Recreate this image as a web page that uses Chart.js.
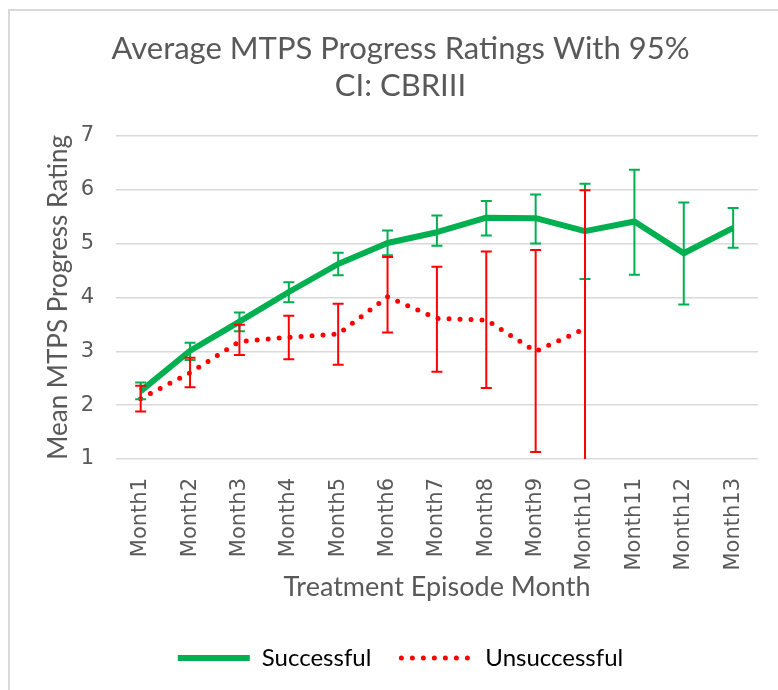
<!DOCTYPE html>
<html>
<head>
<meta charset="utf-8">
<script src="https://cdn.jsdelivr.net/npm/chart.js@4"></script>
<style>
  body { margin: 0; background: #fff; overflow: hidden; }
  #frame { position: absolute; left: 8px; top: 9px; width: 900px; height: 800px; border: 2px solid #d9d9d9; }
  #grafico { position: absolute; left: 0; top: 0; }
</style>
</head>
<body>
<div id="frame"></div>
<canvas id="grafico" width="778" height="690"></canvas>
<script>
// dados
var meses = ['Month1','Month2','Month3','Month4','Month5','Month6','Month7','Month8','Month9','Month10','Month11','Month12','Month13']
var sucesso = [2.26, 3.01, 3.55, 4.10, 4.62, 5.01, 5.21, 5.48, 5.47, 5.23, 5.41, 4.82, 5.29]
var sucesso_min = [2.11, 2.84, 3.37, 3.91, 4.41, 4.78, 4.96, 5.15, 5.00, 4.34, 4.42, 3.87, 4.92]
var sucesso_max = [2.42, 3.16, 3.72, 4.28, 4.83, 5.24, 5.52, 5.79, 5.91, 6.11, 6.37, 5.76, 5.66]
var insucesso = [2.12, 2.60, 3.18, 3.26, 3.32, 4.01, 3.61, 3.58, 3.00, 3.42, null, null, null]
var insucesso_min = [1.88, 2.33, 2.93, 2.85, 2.75, 3.35, 2.62, 2.32, 1.13, 0.85, null, null, null]
var insucesso_max = [2.36, 2.88, 3.49, 3.66, 3.88, 4.75, 4.57, 4.85, 4.88, 5.99, null, null, null]

var cor_verde = '#00B050'
var cor_vermelho = '#FF0000'
var cor_texto = '#595959'
var fonte = 'Lato'
var fonte_ticks = 'DejaVu Sans'

// barras de erro desenhadas com as escalas do chart
const barras_erro = {
    id: 'barras_erro',
    afterDatasetsDraw(chart) {
        const ctx = chart.ctx
        const x = chart.scales.x
        const y = chart.scales.y
        const area = chart.chartArea
        const series = [[sucesso_min, sucesso_max, cor_verde], [insucesso_min, insucesso_max, cor_vermelho]]
        ctx.save()
        ctx.beginPath()
        ctx.rect(area.left, area.top, area.right - area.left, area.bottom - area.top)
        ctx.clip()
        series.forEach(function(s){
            ctx.strokeStyle = s[2]
            ctx.lineWidth = 2
            for(let i = 0; i < meses.length; i++){
                if(s[0][i] == null) continue
                let px = x.getPixelForValue(i)
                let y1 = y.getPixelForValue(s[0][i])
                let y2 = y.getPixelForValue(s[1][i])
                ctx.beginPath()
                ctx.moveTo(px, y1); ctx.lineTo(px, y2)
                ctx.moveTo(px - 5.5, y1); ctx.lineTo(px + 5.5, y1)
                ctx.moveTo(px - 5.5, y2); ctx.lineTo(px + 5.5, y2)
                ctx.stroke()
            }
        })
        ctx.restore()
    }
}

const ctx = document.getElementById('grafico').getContext('2d')
const myChart = new Chart(ctx, {
    type: 'line',
    data: {
        labels: meses,
        datasets: [{
            label: 'Successful',
            data: sucesso,
            borderColor: cor_verde,
            backgroundColor: cor_verde,
            borderWidth: 6,
            pointRadius: 0,
            tension: 0,
            borderJoinStyle: 'round'
        }, {
            label: 'Unsuccessful',
            data: insucesso,
            borderColor: cor_vermelho,
            backgroundColor: cor_vermelho,
            borderWidth: 5,
            borderDash: [0, 11],
            borderCapStyle: 'round',
            pointRadius: 0,
            tension: 0
        }]
    },
    options: {
        responsive: false,
        animation: false,
        layout: { padding: { left: 40, right: 17, top: 10, bottom: 10 } },
        plugins: {
            title: {
                display: true,
                text: ['Average MTPS Progress Ratings With 95%', 'CI: CBRIII'],
                color: cor_texto,
                font: { family: fonte, size: 31, weight: 'normal', lineHeight: 1.19 },
                padding: { top: 21, bottom: 31 }
            },
            legend: {
                position: 'bottom',
                labels: {
                    usePointStyle: true,
                    pointStyleWidth: 72,
                    color: cor_texto,
                    font: { family: fonte, size: 24 },
                    padding: 30,
                    generateLabels: function(chart){
                        return chart.data.datasets.map(function(ds, i){
                            return {
                                text: ds.label,
                                strokeStyle: ds.borderColor,
                                fillStyle: ds.borderColor,
                                lineWidth: ds.borderWidth,
                                lineDash: ds.borderDash || [],
                                lineCap: ds.borderCapStyle || 'butt',
                                pointStyle: 'line',
                                datasetIndex: i
                            }
                        })
                    }
                }
            },
            tooltip: { enabled: false }
        },
        scales: {
            x: {
                offset: true,
                grid: { display: false, drawTicks: false },
                border: { display: false },
                ticks: {
                    color: cor_texto,
                    font: { family: fonte_ticks, size: 21 },
                    minRotation: 90,
                    maxRotation: 90,
                    padding: 19
                },
                title: {
                    display: true,
                    text: 'Treatment Episode Month',
                    color: cor_texto,
                    font: { family: fonte, size: 27 },
                    padding: { top: 0, bottom: 13 }
                },
                afterFit: function(scale){ scale.height = 157 }
            },
            y: {
                min: 1,
                max: 7,
                ticks: {
                    stepSize: 1,
                    color: cor_texto,
                    font: { family: fonte_ticks, size: 21 },
                    padding: 22
                },
                grid: { color: '#d9d9d9', lineWidth: 1.5, drawTicks: false },
                border: { display: false },
                title: {
                    display: true,
                    text: 'Mean MTPS Progress Rating',
                    color: cor_texto,
                    font: { family: fonte, size: 26 },
                    padding: { top: 3, bottom: 0 }
                },
                afterFit: function(scale){ scale.width = 76 }
            }
        }
    },
    plugins: [barras_erro]
})
</script>
</body>
</html>
